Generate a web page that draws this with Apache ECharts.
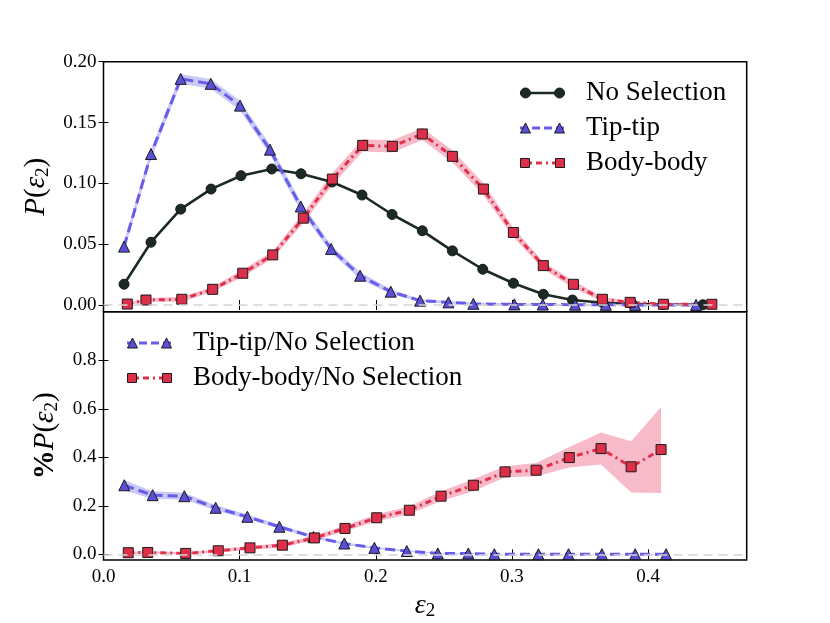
<!DOCTYPE html>
<html>

	<head>
		<meta charset="UTF-8">
		<title></title>
		<style>
			html, body { margin: 0; padding: 0; background: #fff; }
			#myChart { width: 830px; height: 623px; }
		</style>
	</head>

	<body>
		<div id="myChart"></div>
		<script src="https://cdn.jsdelivr.net/npm/echarts@6/dist/echarts.min.js"></script>
		<script>
			// tick labels
			var xTicks = [0, 0.1, 0.2, 0.3, 0.4];
			var topYTicks = [0, 0.05, 0.10, 0.15, 0.20];
			var botYTicks = [0, 0.2, 0.4, 0.6, 0.8];

			// top panel: P(eps2)
			var nsX = [0.0151, 0.0349, 0.0567, 0.0790, 0.1010, 0.1236, 0.1451, 0.1679, 0.1899, 0.2120, 0.2342, 0.2563, 0.2786, 0.3011, 0.3231, 0.3445, 0.3670, 0.3883, 0.4111, 0.4403];
			var nsY = [0.0171, 0.0516, 0.0788, 0.0953, 0.1063, 0.1118, 0.1079, 0.1011, 0.0904, 0.0744, 0.0610, 0.0445, 0.0294, 0.0179, 0.0088, 0.0041, 0.0018, 0.0008, 0.0004, 0.0002];

			var ttX = [0.0151, 0.0349, 0.0567, 0.0788, 0.1003, 0.1223, 0.1449, 0.1672, 0.1885, 0.2110, 0.2326, 0.2534, 0.2717, 0.3018, 0.3227, 0.3464, 0.3690, 0.3905, 0.4353];
			var ttY = [0.0480, 0.1241, 0.1859, 0.1818, 0.1639, 0.1277, 0.0810, 0.0461, 0.0241, 0.0110, 0.0036, 0.0022, 0.0010, 0.0005, 0.0004, 0.0003, 0.0002, 0.0001, 0.0001];
			var ttErr = [0.004, 0.004, 0.004, 0.004, 0.004, 0.004, 0.004, 0.003, 0.003, 0.002, 0.001, 0.001, 0.001, 0.0008, 0.0006, 0.0005, 0.0004, 0.0003, 0.0003];

			var bbX = [0.0175, 0.0312, 0.0575, 0.0802, 0.1023, 0.1243, 0.1468, 0.1681, 0.1904, 0.2122, 0.2342, 0.2563, 0.2791, 0.3011, 0.3231, 0.3452, 0.3665, 0.3869, 0.4113, 0.4469];
			var bbY = [0.0008, 0.0041, 0.0047, 0.0129, 0.0261, 0.0412, 0.0714, 0.1035, 0.1312, 0.1304, 0.1406, 0.1222, 0.0953, 0.0596, 0.0324, 0.0170, 0.0047, 0.0022, 0.0006, 0.0006];
			var bbErr = [0.001, 0.0015, 0.002, 0.002, 0.003, 0.003, 0.004, 0.005, 0.005, 0.005, 0.005, 0.005, 0.005, 0.004, 0.003, 0.003, 0.002, 0.001, 0.001, 0.001];

			// bottom panel: ratios to No Selection
			var ttrX = [0.0153, 0.0361, 0.0594, 0.0824, 0.1057, 0.1292, 0.1542, 0.1769, 0.1990, 0.2228, 0.2456, 0.2680, 0.2871, 0.3195, 0.3416, 0.3661, 0.3906, 0.4133];
			var ttrY = [0.285, 0.244, 0.240, 0.192, 0.155, 0.114, 0.072, 0.045, 0.027, 0.014, 0.004, 0.004, 0.001, 0.001, 0.001, 0.001, 0.001, 0.001];
			var ttrErr = [0.022, 0.016, 0.014, 0.011, 0.009, 0.008, 0.006, 0.005, 0.004, 0.003, 0.002, 0.002, 0.001, 0.001, 0.001, 0.001, 0.001, 0.001];

			var bbrX = [0.0182, 0.0325, 0.0604, 0.0843, 0.1076, 0.1314, 0.1549, 0.1774, 0.2007, 0.2247, 0.2480, 0.2717, 0.2950, 0.3178, 0.3422, 0.3655, 0.3876, 0.4096];
			var bbrY = [0.007, 0.008, 0.004, 0.015, 0.027, 0.038, 0.068, 0.107, 0.151, 0.182, 0.240, 0.285, 0.340, 0.347, 0.399, 0.436, 0.361, 0.432];
			var bbrLo = [0.002, 0.003, 0.000, 0.009, 0.019, 0.029, 0.058, 0.095, 0.137, 0.166, 0.220, 0.260, 0.318, 0.322, 0.358, 0.370, 0.255, 0.253];
			var bbrHi = [0.012, 0.013, 0.008, 0.021, 0.035, 0.047, 0.078, 0.119, 0.165, 0.198, 0.260, 0.310, 0.363, 0.377, 0.443, 0.502, 0.466, 0.607];

			var FONT = "'Liberation Serif', 'DejaVu Serif', serif";
			var C_NS = '#1c2a24';
			var C_TT = '#5b4fd8', C_TT_LINE = '#6a5cea', C_TT_BAND = 'rgba(150,150,240,0.5)';
			var C_BB = '#dc2f4a', C_BB_LINE = '#e2304c', C_BB_BAND = 'rgba(240,130,155,0.55)';

			// legend icons: one set draws the line, the other the two end markers
			var ICON_W = 44, ICON_H = 10;
			var lineIcons = {
				solid: 'path://M0 0h44v2.6h-44Z',
				dash: 'path://M0 0h8v3h-8Z M12 0h8v3h-8Z M24 0h8v3h-8Z M36 0h8v3h-8Z',
				dashdot: 'path://M0 0h6v3h-6Z M10 0h2v3h-2Z M16 0h6v3h-6Z M26 0h2v3h-2Z M32 0h6v3h-6Z M42 0h2v3h-2Z'
			};
			var markIcons = {
				circle: 'path://M0 5a5 5 0 1 0 10 0a5 5 0 1 0 -10 0Z M34 5a5 5 0 1 0 10 0a5 5 0 1 0 -10 0Z',
				triangle: 'path://M0 10L5 0L10 10Z M34 10L39 0L44 10Z',
				square: 'path://M0 0.5h9v9h-9Z M35 0.5h9v9h-9Z'
			};

			function pairs(xs, ys) {
				var out = [];
				for (var i = 0; i < xs.length; i++) out.push([xs[i], ys[i]]);
				return out;
			}

			function plusErr(ys, err, sign) {
				var out = [];
				for (var i = 0; i < ys.length; i++) out.push(ys[i] + sign * err[i]);
				return out;
			}

			function bandSeries(name, xs, lo, hi, color, gi) {
				return {
					type: 'custom',
					name: name,
					xAxisIndex: gi * 2,
					yAxisIndex: gi * 2,
					z: 1,
					silent: true,
					data: [[xs[0], lo[0]]],
					renderItem: function(params, api) {
						var up = [], down = [];
						for (var i = 0; i < xs.length; i++) {
							up.push(api.coord([xs[i], hi[i]]));
							down.unshift(api.coord([xs[i], lo[i]]));
						}
						return {
							type: 'polygon',
							shape: { points: up.concat(down) },
							style: { fill: color }
						};
					}
				};
			}

			function lineSeries(name, data, gi, sym, size, fill, lineColor, lineType, width) {
				return {
					type: 'line',
					name: name,
					xAxisIndex: gi * 2,
					yAxisIndex: gi * 2,
					z: 3,
					data: data,
					symbol: sym,
					symbolSize: size,
					showAllSymbol: true,
					itemStyle: { color: fill, borderColor: '#1a1a1a', borderWidth: 1 },
					lineStyle: { color: lineColor, type: lineType, width: width }
				};
			}

			function zeroLine(gi) {
				return {
					type: 'line',
					name: 'zero' + gi,
					xAxisIndex: gi * 2,
					yAxisIndex: gi * 2,
					z: 0,
					data: [],
					markLine: {
						silent: true,
						symbol: 'none',
						label: { show: false },
						lineStyle: { color: '#d4d4d4', type: [9, 6], width: 1.5 },
						data: [{ yAxis: 0 }]
					}
				};
			}

			function xAxisFor(gi, pos, labels) {
				return {
					type: 'value',
					gridIndex: gi,
					position: pos,
					min: 0,
					max: 0.4725,
					axisLine: { show: false },
					splitLine: { show: false },
					axisTick: { inside: true, length: 5, lineStyle: { color: '#000' }, customValues: xTicks },
					axisLabel: {
						show: labels,
						customValues: xTicks,
						margin: 8,
						color: '#000',
						fontFamily: FONT,
						fontSize: 19,
						formatter: function(v) { return v.toFixed(1); }
					},
					name: labels ? '{i|ε}{s|2}' : '',
					nameLocation: 'middle',
					nameGap: 30,
					nameTextStyle: {
						rich: {
							i: { fontFamily: FONT, fontStyle: 'italic', fontSize: 28, color: '#000' },
							s: { fontFamily: FONT, fontSize: 19, color: '#000', padding: [12, 0, 0, 0] }
						}
					}
				};
			}

			function yAxisFor(gi, pos, min, max, ticks, digits, name, gap) {
				var labels = pos == 'left';
				return {
					type: 'value',
					gridIndex: gi,
					position: pos,
					min: min,
					max: max,
					axisLine: { show: false },
					splitLine: { show: false },
					axisTick: { inside: true, length: 5, lineStyle: { color: '#000' }, customValues: ticks },
					axisLabel: {
						show: labels,
						customValues: ticks,
						margin: 7,
						color: '#000',
						fontFamily: FONT,
						fontSize: 19,
						formatter: function(v) { return v.toFixed(digits); }
					},
					name: labels ? name : '',
					nameLocation: 'middle',
					nameRotate: 90,
					nameGap: gap,
					nameTextStyle: {
						rich: {
							b: { fontFamily: FONT, fontWeight: 'bold', fontSize: 29, color: '#000' },
							i: { fontFamily: FONT, fontStyle: 'italic', fontSize: 29, color: '#000' },
							n: { fontFamily: FONT, fontSize: 29, color: '#000' },
							s: { fontFamily: FONT, fontSize: 19, color: '#000', padding: [13, 0, 0, 0] }
						}
					}
				};
			}

			function legendPair(items, left, top) {
				var base = {
					orient: 'vertical',
					left: left,
					top: top,
					padding: 0,
					itemGap: 7,
					itemWidth: ICON_W,
					itemHeight: ICON_H,
					symbolKeepAspect: true,
					selectedMode: false
				};
				var lines = echarts.util.clone(base);
				lines.data = items.map(function(it) {
					return { name: it.name, icon: lineIcons[it.line], itemStyle: { color: it.lineColor, borderWidth: 0 } };
				});
				lines.textStyle = { fontFamily: FONT, fontSize: 27, lineHeight: 28, color: '#000', padding: [0, 0, 0, 17] };
				var marks = echarts.util.clone(base);
				marks.data = items.map(function(it) {
					return { name: it.name, icon: markIcons[it.mark], itemStyle: { color: it.fill, borderColor: '#1a1a1a', borderWidth: 1 } };
				});
				marks.textStyle = { fontFamily: FONT, fontSize: 27, lineHeight: 28, color: 'rgba(0,0,0,0)', padding: [0, 0, 0, 17] };
				return [lines, marks];
			}

			function initOptions() {
				var topItems = [
					{ name: 'No Selection', line: 'solid', lineColor: C_NS, mark: 'circle', fill: C_NS },
					{ name: 'Tip-tip', line: 'dash', lineColor: C_TT_LINE, mark: 'triangle', fill: C_TT },
					{ name: 'Body-body', line: 'dashdot', lineColor: C_BB_LINE, mark: 'square', fill: C_BB }
				];
				var botItems = [
					{ name: 'Tip-tip/No Selection', line: 'dash', lineColor: C_TT_LINE, mark: 'triangle', fill: C_TT },
					{ name: 'Body-body/No Selection', line: 'dashdot', lineColor: C_BB_LINE, mark: 'square', fill: C_BB }
				];
				return {
					animation: false,
					backgroundColor: '#fff',
					grid: [
						{ left: 103.5, right: 83.3, top: 61.7, height: 250, outerBoundsMode: 'none', show: true, borderColor: '#000', borderWidth: 1.5 },
						{ left: 103.5, right: 83.3, top: 311.7, height: 248.3, outerBoundsMode: 'none', show: true, borderColor: '#000', borderWidth: 1.5 }
					],
					legend: legendPair(topItems, 520, 79).concat(legendPair(botItems, 127, 329)),
					xAxis: [
						xAxisFor(0, 'bottom', false),
						xAxisFor(0, 'top', false),
						xAxisFor(1, 'bottom', true),
						xAxisFor(1, 'top', false)
					],
					yAxis: [
						yAxisFor(0, 'left', -0.0055, 0.2, topYTicks, 2, '{i|P}{n|(}{i|ε}{s|2}{n|)}', 48),
						yAxisFor(0, 'right', -0.0055, 0.2, topYTicks, 2, '', 0),
						yAxisFor(1, 'left', -0.023, 1.0, botYTicks, 1, '{b|%}{i|P}{n|(}{i|ε}{s|2}{n|)}', 34),
						yAxisFor(1, 'right', -0.023, 1.0, botYTicks, 1, '', 0)
					],
					series: [
						zeroLine(0),
						zeroLine(1),
						bandSeries('tt band', ttX, plusErr(ttY, ttErr, -1), plusErr(ttY, ttErr, 1), C_TT_BAND, 0),
						bandSeries('bb band', bbX, plusErr(bbY, bbErr, -1), plusErr(bbY, bbErr, 1), C_BB_BAND, 0),
						bandSeries('ttr band', ttrX, plusErr(ttrY, ttrErr, -1), plusErr(ttrY, ttrErr, 1), C_TT_BAND, 1),
						bandSeries('bbr band', bbrX, bbrLo, bbrHi, C_BB_BAND, 1),
						lineSeries('No Selection', pairs(nsX, nsY), 0, 'circle', 10, C_NS, C_NS, 'solid', 2.6),
						lineSeries('Tip-tip', pairs(ttX, ttY), 0, 'triangle', 11, C_TT, C_TT_LINE, [10, 5], 3),
						lineSeries('Body-body', pairs(bbX, bbY), 0, 'rect', 10, C_BB, C_BB_LINE, [6, 4, 2, 4], 3),
						lineSeries('Tip-tip/No Selection', pairs(ttrX, ttrY), 1, 'triangle', 11, C_TT, C_TT_LINE, [10, 5], 3),
						lineSeries('Body-body/No Selection', pairs(bbrX, bbrY), 1, 'rect', 10, C_BB, C_BB_LINE, [6, 4, 2, 4], 3)
					]
				};
			}

			var myChart = echarts.init(document.getElementById('myChart'));
			myChart.setOption(initOptions());
		</script>
	</body>

</html>
